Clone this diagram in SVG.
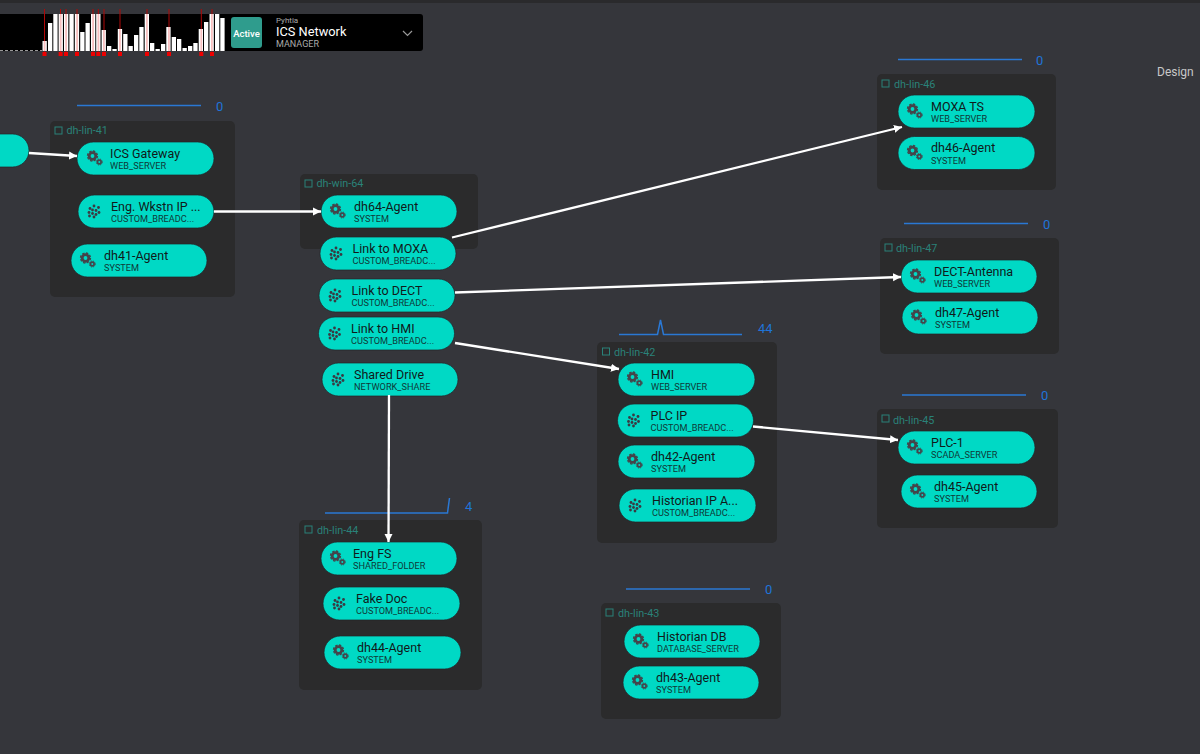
<svg xmlns="http://www.w3.org/2000/svg" width="1200" height="754" viewBox="0 0 1200 754">
<style>
text{font-family:Roboto,"Liberation Sans",sans-serif}
.grp{fill:#2b2b2c}
.gt{font-size:10.8px;fill:#2a8279}
.gi{fill:none;stroke:#2a8279;stroke-width:1}
.pill{fill:#00d9c5;stroke:#232326;stroke-width:.7}
.t{font-size:12.5px;fill:#101a1a}
.s{font-size:9.200px;fill:#0f3a38}
.sp{fill:none;stroke:#2a78d4;stroke-width:1.500}
.n{font-size:13px;fill:#1f74d8}
.c{stroke:#fff;stroke-width:2.300;fill:none;marker-end:url(#arr)}
.cs{stroke:#1c1c1e;stroke-width:3.500;fill:none;opacity:.5}
.bar{fill:#fff}
.red{stroke:#b00808;stroke-width:1}
.rs{fill:#e00}
.pk{fill:#f8c0c0}
</style>
<defs>
<marker id="arr" markerUnits="userSpaceOnUse" markerWidth="9" markerHeight="10" refX="8" refY="5" orient="auto"><path d="M0 1L8 5L0 9z" fill="#fff"/></marker>
<g id="gear">
<circle cx="-1.500" cy="-2" r="3.300" fill="none" stroke="#44444a" stroke-width="2.800"/>
<circle cx="-1.500" cy="-2" r="5" fill="none" stroke="#44444a" stroke-width="1.300" stroke-dasharray="2.400 1.500"/>
<circle cx="5.300" cy="4" r="1.800" fill="none" stroke="#44444a" stroke-width="1.700"/>
<circle cx="5.300" cy="4" r="3" fill="none" stroke="#44444a" stroke-width=".9" stroke-dasharray="1.400 1"/>
</g>
<g id="dots" fill="#3a3a42">
<circle cx="-4" cy="-3" r="1.400"/><circle cx="0" cy="-5.500" r="1.400"/><circle cx="4.500" cy="-4" r="1.400"/>
<circle cx="-1.500" cy="-1.500" r="1.400"/><circle cx="2" cy="-1" r="1.400"/><circle cx="-5" cy="1" r="1.400"/>
<circle cx="5" cy="1" r="1.400"/><circle cx="-1.500" cy="2" r="1.400"/><circle cx="2" cy="3" r="1.400"/>
<circle cx="-4.500" cy="4.500" r="1.400"/><circle cx="0" cy="5.500" r="1.400"/>
</g>
</defs>
<rect width="1200" height="754" fill="#35363b"/>
<rect width="1200" height="3" fill="#2a2a2c"/>

<g id="header">
<rect x="-8" y="14" width="431" height="37" rx="3" fill="#000"/>
<path d="M0 50.500H42" stroke="#999" stroke-width="1" stroke-dasharray="3 2"/>
<g class="red">
<path d="M44.500 9V53M60.500 9V53M66 9V53M77 9V53M93 9V53M98.300 9V53M104 9V53M120 9V53M147 9V53M169 9V53M201.300 9V53M212 9V53"/>
</g>
<g class="bar">
<rect x="42.500" y="41" width="4.300" height="10"/><rect x="48" y="23" width="4.300" height="28"/><rect x="53.300" y="14" width="4.300" height="37"/><rect x="58.600" y="14" width="4.300" height="37"/><rect x="64" y="14" width="4.300" height="37"/><rect x="69.400" y="14" width="4.300" height="37"/><rect x="74.800" y="14" width="4.300" height="37"/><rect x="80.200" y="32" width="4.300" height="19"/><rect x="85.500" y="23" width="4.300" height="28"/><rect x="91" y="14" width="4.300" height="37"/><rect x="96.200" y="14" width="4.300" height="37"/><rect x="101.600" y="30" width="4.300" height="21"/><rect x="107" y="46" width="4.300" height="5"/><rect x="112.400" y="49" width="4.300" height="2"/><rect x="117.800" y="29" width="4.300" height="22"/><rect x="123.200" y="34" width="4.300" height="17"/><rect x="128.500" y="46" width="4.300" height="5"/><rect x="134" y="35" width="4.300" height="16"/><rect x="139.300" y="27" width="4.300" height="24"/><rect x="144.700" y="14" width="4.300" height="37"/><rect x="150" y="43" width="4.300" height="8"/><rect x="155.500" y="49" width="4.300" height="2"/><rect x="161" y="44" width="4.300" height="7"/><rect x="166.300" y="27" width="4.300" height="24"/><rect x="171.700" y="37" width="4.300" height="14"/><rect x="177" y="39" width="4.300" height="12"/><rect x="182.500" y="48" width="4.300" height="3"/><rect x="188" y="46" width="4.300" height="5"/><rect x="193.300" y="43" width="4.300" height="8"/><rect x="198.700" y="29" width="4.300" height="22"/><rect x="204" y="22" width="4.300" height="29"/><rect x="209.500" y="14" width="4.300" height="37"/><rect x="215" y="14" width="4.300" height="37"/><rect x="220.300" y="18" width="4.300" height="33"/>
</g>
<g class="pk">
<rect x="43.700" y="41" width="1.800" height="10"/><rect x="59.800" y="14" width="1.800" height="37"/><rect x="65.200" y="14" width="1.800" height="37"/><rect x="76.200" y="14" width="1.800" height="37"/><rect x="92.200" y="14" width="1.800" height="37"/><rect x="97.500" y="14" width="1.800" height="37"/><rect x="103" y="30" width="1.800" height="21"/><rect x="119" y="29" width="1.800" height="22"/><rect x="146" y="14" width="1.800" height="37"/><rect x="168" y="27" width="1.800" height="24"/><rect x="200.400" y="29" width="1.800" height="22"/><rect x="211" y="14" width="1.800" height="37"/>
</g>
<g class="rs">
<rect x="42.500" y="52" width="4" height="4"/><rect x="58.600" y="52" width="4" height="4"/><rect x="64" y="52" width="4" height="4"/><rect x="75" y="52" width="4" height="4"/><rect x="91" y="52" width="4" height="4"/><rect x="96.300" y="52" width="4" height="4"/><rect x="102" y="52" width="4" height="4"/><rect x="118" y="52" width="4" height="4"/><rect x="145" y="52" width="4" height="4"/><rect x="167" y="52" width="4" height="4"/><rect x="199.300" y="52" width="4" height="4"/><rect x="210" y="52" width="4" height="4"/>
</g>
<rect x="231" y="17" width="31" height="31" rx="3" fill="#2f9c8d"/>
<text x="246.500" y="36.500" text-anchor="middle" font-size="9.500" font-weight="500" fill="#fff">Active</text>
<text x="276" y="22.500" font-size="8" fill="#aaa">Pyhtia</text>
<text x="276" y="36" font-size="12.800" fill="#fff">ICS Network</text>
<text x="276" y="47" font-size="9" fill="#aaa">MANAGER</text>
<path d="M403 31l4.500 4.500l4.500-4.500" fill="none" stroke="#999" stroke-width="1.200"/>
</g>
<text id="design" x="1157" y="75.500" font-size="12" fill="#c8c8c8">Design</text>

<g id="dh-lin-41">
<rect class="grp" x="50" y="121" width="185" height="176" rx="5"/>
<rect class="gi" x="55" y="127" width="7" height="7"/><text class="gt" x="66.500" y="134">dh-lin-41</text>
<path class="sp" d="M77 105.500H201"/><text class="n" x="216" y="110.500">0</text>
</g>
<g id="dh-win-64">
<rect class="grp" x="300" y="174" width="178" height="75" rx="5"/>
<rect class="gi" x="305" y="180" width="7" height="7"/><text class="gt" x="316.500" y="187">dh-win-64</text>
</g>
<g id="dh-lin-42">
<rect class="grp" x="597" y="342" width="180" height="201" rx="5"/>
<rect class="gi" x="602.500" y="348" width="7" height="7"/><text class="gt" x="614" y="355.500">dh-lin-42</text>
<path class="sp" d="M619 334.500H657.500L660.500 320L663.500 334.500H742"/><text class="n" x="758" y="332.500">44</text>
</g>
<g id="dh-lin-44">
<rect class="grp" x="299" y="520" width="183" height="170" rx="5"/>
<rect class="gi" x="305" y="526" width="7" height="7"/><text class="gt" x="317" y="534">dh-lin-44</text>
<path class="sp" d="M325 513H447.500L449.500 498"/><text class="n" x="465" y="510.500">4</text>
</g>
<g id="dh-lin-46">
<rect class="grp" x="877" y="74" width="179" height="116" rx="5"/>
<rect class="gi" x="882" y="80" width="7" height="7"/><text class="gt" x="894" y="88">dh-lin-46</text>
<path class="sp" d="M898 59.500H1022"/><text class="n" x="1036" y="64.500">0</text>
</g>
<g id="dh-lin-47">
<rect class="grp" x="880" y="238" width="179" height="116" rx="5"/>
<rect class="gi" x="885" y="244" width="7" height="7"/><text class="gt" x="896" y="252">dh-lin-47</text>
<path class="sp" d="M904 223.500H1028"/><text class="n" x="1043" y="229">0</text>
</g>
<g id="dh-lin-45">
<rect class="grp" x="877" y="409" width="181" height="119" rx="5"/>
<rect class="gi" x="882" y="415" width="7" height="7"/><text class="gt" x="893" y="423.500">dh-lin-45</text>
<path class="sp" d="M902 395H1026"/><text class="n" x="1041" y="400">0</text>
</g>
<g id="dh-lin-43">
<rect class="grp" x="601" y="603" width="180" height="116" rx="5"/>
<rect class="gi" x="606" y="609" width="7" height="7"/><text class="gt" x="618" y="617">dh-lin-43</text>
<path class="sp" d="M626 589H750"/><text class="n" x="765" y="594">0</text>
</g>

<g id="node-left"><rect class="pill" x="-107" y="134" width="136" height="33" rx="16.500"/></g>
<g id="n-ics" transform="translate(77 142)"><rect class="pill" width="137" height="33" rx="16.500"/><use href="#gear" x="17" y="16"/><text class="t" x="33" y="15.500">ICS Gateway</text><text class="s" x="33" y="27">WEB_SERVER</text></g>
<g id="n-eng" transform="translate(78 195)"><rect class="pill" width="136" height="33" rx="16.500"/><use href="#dots" x="16" y="16.500"/><text class="t" x="33" y="15.500">Eng. Wkstn IP ...</text><text class="s" x="33" y="27">CUSTOM_BREADC...</text></g>
<g id="n-dh41" transform="translate(71 244)"><rect class="pill" width="136" height="33" rx="16.500"/><use href="#gear" x="16" y="16"/><text class="t" x="33" y="15.500">dh41-Agent</text><text class="s" x="33" y="27">SYSTEM</text></g>
<g id="n-dh64" transform="translate(321 195)"><rect class="pill" width="136" height="33" rx="16.500"/><use href="#gear" x="16" y="16"/><text class="t" x="33" y="15.500">dh64-Agent</text><text class="s" x="33" y="27">SYSTEM</text></g>
<g id="n-moxa-link" transform="translate(320 237)"><rect class="pill" width="136" height="33" rx="16.500"/><use href="#dots" x="16" y="16.500"/><text class="t" x="32.500" y="15.500">Link to MOXA</text><text class="s" x="32.500" y="27">CUSTOM_BREADC...</text></g>
<g id="n-dect-link" transform="translate(319 279)"><rect class="pill" width="136" height="33" rx="16.500"/><use href="#dots" x="16" y="16.500"/><text class="t" x="32.500" y="15.500">Link to DECT</text><text class="s" x="32.500" y="27">CUSTOM_BREADC...</text></g>
<g id="n-hmi-link" transform="translate(318.500 317)"><rect class="pill" width="136" height="33" rx="16.500"/><use href="#dots" x="16" y="16.500"/><text class="t" x="32.500" y="15.500">Link to HMI</text><text class="s" x="32.500" y="27">CUSTOM_BREADC...</text></g>
<g id="n-share" transform="translate(322 363)"><rect class="pill" width="136" height="33" rx="16.500"/><use href="#dots" x="16" y="16.500"/><text class="t" x="32" y="15.500">Shared Drive</text><text class="s" x="32" y="27">NETWORK_SHARE</text></g>
<g id="n-hmi" transform="translate(618 363)"><rect class="pill" width="137" height="33" rx="16.500"/><use href="#gear" x="16" y="16"/><text class="t" x="33" y="15.500">HMI</text><text class="s" x="33" y="27">WEB_SERVER</text></g>
<g id="n-plc-ip" transform="translate(617.500 404)"><rect class="pill" width="136" height="33" rx="16.500"/><use href="#dots" x="16" y="16.500"/><text class="t" x="33" y="15.500">PLC IP</text><text class="s" x="33" y="27">CUSTOM_BREADC...</text></g>
<g id="n-dh42" transform="translate(618 445)"><rect class="pill" width="137" height="33" rx="16.500"/><use href="#gear" x="16" y="16"/><text class="t" x="33" y="15.500">dh42-Agent</text><text class="s" x="33" y="27">SYSTEM</text></g>
<g id="n-hist-ip" transform="translate(619 489)"><rect class="pill" width="137" height="33" rx="16.500"/><use href="#dots" x="16" y="16.500"/><text class="t" x="33" y="15.500">Historian IP A...</text><text class="s" x="33" y="27">CUSTOM_BREADC...</text></g>
<g id="n-engfs" transform="translate(321 542)"><rect class="pill" width="136" height="33" rx="16.500"/><use href="#gear" x="16" y="16"/><text class="t" x="32" y="15.500">Eng FS</text><text class="s" x="32" y="27">SHARED_FOLDER</text></g>
<g id="n-fake" transform="translate(323 587)"><rect class="pill" width="137" height="33" rx="16.500"/><use href="#dots" x="16" y="16.500"/><text class="t" x="33" y="15.500">Fake Doc</text><text class="s" x="33" y="27">CUSTOM_BREADC...</text></g>
<g id="n-dh44" transform="translate(324 636)"><rect class="pill" width="137" height="33" rx="16.500"/><use href="#gear" x="16" y="16"/><text class="t" x="33" y="15.500">dh44-Agent</text><text class="s" x="33" y="27">SYSTEM</text></g>
<g id="n-moxats" transform="translate(898 95)"><rect class="pill" width="137" height="33" rx="16.500"/><use href="#gear" x="16" y="16"/><text class="t" x="33" y="15.500">MOXA TS</text><text class="s" x="33" y="27">WEB_SERVER</text></g>
<g id="n-dh46" transform="translate(898 136.500)"><rect class="pill" width="137" height="33" rx="16.500"/><use href="#gear" x="16" y="16"/><text class="t" x="33" y="15.500">dh46-Agent</text><text class="s" x="33" y="27">SYSTEM</text></g>
<g id="n-dect" transform="translate(901 260)"><rect class="pill" width="136" height="33" rx="16.500"/><use href="#gear" x="16" y="16"/><text class="t" x="33" y="15.500">DECT-Antenna</text><text class="s" x="33" y="27">WEB_SERVER</text></g>
<g id="n-dh47" transform="translate(902 301)"><rect class="pill" width="136" height="33" rx="16.500"/><use href="#gear" x="16" y="16"/><text class="t" x="33" y="15.500">dh47-Agent</text><text class="s" x="33" y="27">SYSTEM</text></g>
<g id="n-plc1" transform="translate(898 431)"><rect class="pill" width="137" height="33" rx="16.500"/><use href="#gear" x="16" y="16"/><text class="t" x="33" y="15.500">PLC-1</text><text class="s" x="33" y="27">SCADA_SERVER</text></g>
<g id="n-dh45" transform="translate(901 475)"><rect class="pill" width="136" height="33" rx="16.500"/><use href="#gear" x="16" y="16"/><text class="t" x="33" y="15.500">dh45-Agent</text><text class="s" x="33" y="27">SYSTEM</text></g>
<g id="n-histdb" transform="translate(624 625)"><rect class="pill" width="136" height="33" rx="16.500"/><use href="#gear" x="16" y="16"/><text class="t" x="33" y="15.500">Historian DB</text><text class="s" x="33" y="27">DATABASE_SERVER</text></g>
<g id="n-dh43" transform="translate(623 666)"><rect class="pill" width="136" height="33" rx="16.500"/><use href="#gear" x="16" y="16"/><text class="t" x="33" y="15.500">dh43-Agent</text><text class="s" x="33" y="27">SYSTEM</text></g>

<g id="connectors">
<path class="c" d="M29 153L77 156"/>
<path class="c" d="M214 211.500H321"/>
<path class="c" d="M452 237.500L902 127"/>
<path class="c" d="M455 292.500L901 277"/>
<path class="c" d="M455 343L619 369"/>
<path class="c" d="M753 426.500L898 440"/>
<path class="c" d="M389 395L388.500 542"/>
</g>
</svg>
